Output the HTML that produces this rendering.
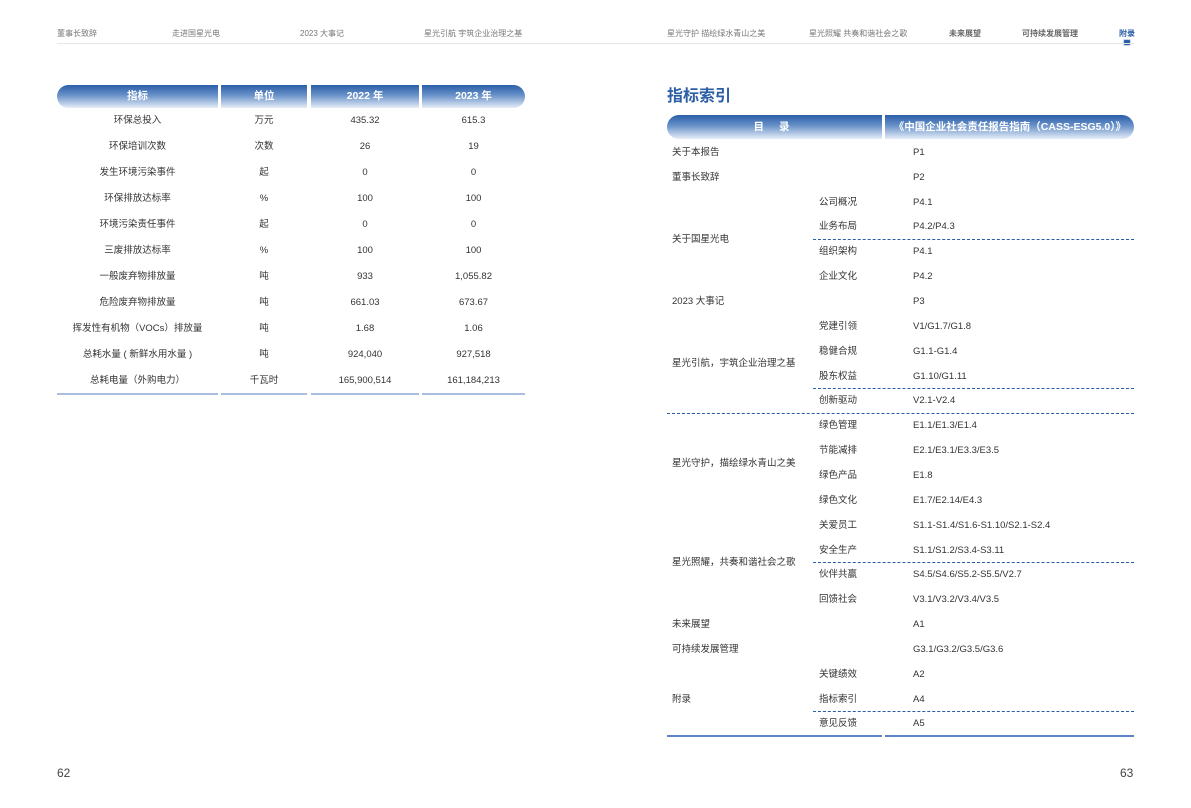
<!DOCTYPE html>
<html><head><meta charset="utf-8">
<style>
*{margin:0;padding:0;box-sizing:border-box}
body{width:1191px;height:808px;background:#fff;position:relative;overflow:hidden;font-family:"Liberation Sans","Noto Sans CJK SC",sans-serif;color:#333}
.a{position:absolute;white-space:nowrap}
.nav{font-size:8px;color:#777;top:28px}
.hd{position:absolute;height:23px;background:linear-gradient(#2a5ea8,#6a92c9 45%,#e6eef8);color:#fff;font-weight:bold;font-size:10.5px;line-height:23px;text-align:center}
.c{position:absolute;font-size:9.5px;text-align:center;line-height:14px;margin-top:1px}
.l{position:absolute;font-size:9.5px;line-height:14px;margin-top:1px}
.bl{position:absolute;height:2px;background:#a9bde0}
.dash{position:absolute;height:0;border-top:1px dashed #2b5ea6}
</style></head><body>
<div class="a nav" style="left:57px">董事长致辞</div>
<div class="a nav" style="left:172px">走进国星光电</div>
<div class="a nav" style="left:300px">2023 大事记</div>
<div class="a nav" style="left:424px">星光引航 宇筑企业治理之基</div>
<div class="a nav" style="left:667px">星光守护 描绘绿水青山之美</div>
<div class="a nav" style="left:809px">星光照耀 共奏和谐社会之歌</div>
<div class="a nav" style="left:949px;font-weight:bold;color:#666">未来展望</div>
<div class="a nav" style="left:1022px;font-weight:bold;color:#666">可持续发展管理</div>
<div class="a nav" style="left:1119px;font-weight:bold;color:#2b5ea6">附录</div>
<div class="a" style="left:1124px;top:40px;width:6px;height:5px;background:#2b5ea6;border-radius:1px;box-shadow:0 0 0 1px #c8d6ee"></div>
<div class="a" style="left:57px;top:43px;width:1077px;height:1px;background:#e6e6e6"></div>

<div class="hd" style="left:57px;top:85px;width:161px;border-radius:12px 0 0 12px">指标</div>
<div class="hd" style="left:221px;top:85px;width:86px">单位</div>
<div class="hd" style="left:311px;top:85px;width:108px">2022 年</div>
<div class="hd" style="left:422px;top:85px;width:103px;border-radius:0 12px 12px 0">2023 年</div>
<div class="c" style="left:57px;top:113px;width:161px">环保总投入</div><div class="c" style="left:221px;top:113px;width:86px">万元</div><div class="c" style="left:311px;top:113px;width:108px">435.32</div><div class="c" style="left:422px;top:113px;width:103px">615.3</div>
<div class="c" style="left:57px;top:139px;width:161px">环保培训次数</div><div class="c" style="left:221px;top:139px;width:86px">次数</div><div class="c" style="left:311px;top:139px;width:108px">26</div><div class="c" style="left:422px;top:139px;width:103px">19</div>
<div class="c" style="left:57px;top:165px;width:161px">发生环境污染事件</div><div class="c" style="left:221px;top:165px;width:86px">起</div><div class="c" style="left:311px;top:165px;width:108px">0</div><div class="c" style="left:422px;top:165px;width:103px">0</div>
<div class="c" style="left:57px;top:191px;width:161px">环保排放达标率</div><div class="c" style="left:221px;top:191px;width:86px">%</div><div class="c" style="left:311px;top:191px;width:108px">100</div><div class="c" style="left:422px;top:191px;width:103px">100</div>
<div class="c" style="left:57px;top:217px;width:161px">环境污染责任事件</div><div class="c" style="left:221px;top:217px;width:86px">起</div><div class="c" style="left:311px;top:217px;width:108px">0</div><div class="c" style="left:422px;top:217px;width:103px">0</div>
<div class="c" style="left:57px;top:243px;width:161px">三废排放达标率</div><div class="c" style="left:221px;top:243px;width:86px">%</div><div class="c" style="left:311px;top:243px;width:108px">100</div><div class="c" style="left:422px;top:243px;width:103px">100</div>
<div class="c" style="left:57px;top:269px;width:161px">一般废弃物排放量</div><div class="c" style="left:221px;top:269px;width:86px">吨</div><div class="c" style="left:311px;top:269px;width:108px">933</div><div class="c" style="left:422px;top:269px;width:103px">1,055.82</div>
<div class="c" style="left:57px;top:295px;width:161px">危险废弃物排放量</div><div class="c" style="left:221px;top:295px;width:86px">吨</div><div class="c" style="left:311px;top:295px;width:108px">661.03</div><div class="c" style="left:422px;top:295px;width:103px">673.67</div>
<div class="c" style="left:57px;top:321px;width:161px">挥发性有机物（VOCs）排放量</div><div class="c" style="left:221px;top:321px;width:86px">吨</div><div class="c" style="left:311px;top:321px;width:108px">1.68</div><div class="c" style="left:422px;top:321px;width:103px">1.06</div>
<div class="c" style="left:57px;top:347px;width:161px">总耗水量 ( 新鲜水用水量 )</div><div class="c" style="left:221px;top:347px;width:86px">吨</div><div class="c" style="left:311px;top:347px;width:108px">924,040</div><div class="c" style="left:422px;top:347px;width:103px">927,518</div>
<div class="c" style="left:57px;top:373px;width:161px">总耗电量（外购电力）</div><div class="c" style="left:221px;top:373px;width:86px">千瓦时</div><div class="c" style="left:311px;top:373px;width:108px">165,900,514</div><div class="c" style="left:422px;top:373px;width:103px">161,184,213</div>
<div class="bl" style="left:57px;top:393px;width:161px"></div><div class="bl" style="left:221px;top:393px;width:86px"></div><div class="bl" style="left:311px;top:393px;width:108px"></div><div class="bl" style="left:422px;top:393px;width:103px"></div>

<div class="a" style="left:667px;top:82px;font-size:16px;font-weight:bold;color:#2b5ea6">指标索引</div>
<div class="hd" style="left:667px;top:115px;width:215px;height:24px;line-height:24px;border-radius:12px 0 0 12px;letter-spacing:6px">目 录</div>
<div class="hd" style="left:885px;top:115px;width:249px;height:24px;line-height:24px;border-radius:0 12px 12px 0;text-align:right;padding-right:8px">《中国企业社会责任报告指南（CASS-ESG5.0）》</div>

<div class="l" style="left:672px;top:145px">关于本报告</div><div class="l" style="left:913px;top:145px">P1</div>
<div class="l" style="left:672px;top:170px">董事长致辞</div><div class="l" style="left:913px;top:170px">P2</div>
<div class="l" style="left:819px;top:195px">公司概况</div><div class="l" style="left:913px;top:195px">P4.1</div>
<div class="l" style="left:819px;top:219px">业务布局</div><div class="l" style="left:913px;top:219px">P4.2/P4.3</div>
<div class="l" style="left:819px;top:244px">组织架构</div><div class="l" style="left:913px;top:244px">P4.1</div>
<div class="l" style="left:819px;top:269px">企业文化</div><div class="l" style="left:913px;top:269px">P4.2</div>
<div class="l" style="left:672px;top:232px">关于国星光电</div>
<div class="l" style="left:672px;top:294px">2023 大事记</div><div class="l" style="left:913px;top:294px">P3</div>
<div class="l" style="left:819px;top:319px">党建引领</div><div class="l" style="left:913px;top:319px">V1/G1.7/G1.8</div>
<div class="l" style="left:819px;top:344px">稳健合规</div><div class="l" style="left:913px;top:344px">G1.1-G1.4</div>
<div class="l" style="left:819px;top:369px">股东权益</div><div class="l" style="left:913px;top:369px">G1.10/G1.11</div>
<div class="l" style="left:819px;top:393px">创新驱动</div><div class="l" style="left:913px;top:393px">V2.1-V2.4</div>
<div class="l" style="left:672px;top:356px">星光引航，宇筑企业治理之基</div>
<div class="l" style="left:819px;top:418px">绿色管理</div><div class="l" style="left:913px;top:418px">E1.1/E1.3/E1.4</div>
<div class="l" style="left:819px;top:443px">节能减排</div><div class="l" style="left:913px;top:443px">E2.1/E3.1/E3.3/E3.5</div>
<div class="l" style="left:819px;top:468px">绿色产品</div><div class="l" style="left:913px;top:468px">E1.8</div>
<div class="l" style="left:819px;top:493px">绿色文化</div><div class="l" style="left:913px;top:493px">E1.7/E2.14/E4.3</div>
<div class="l" style="left:672px;top:456px">星光守护，描绘绿水青山之美</div>
<div class="l" style="left:819px;top:518px">关爱员工</div><div class="l" style="left:913px;top:518px">S1.1-S1.4/S1.6-S1.10/S2.1-S2.4</div>
<div class="l" style="left:819px;top:543px">安全生产</div><div class="l" style="left:913px;top:543px">S1.1/S1.2/S3.4-S3.11</div>
<div class="l" style="left:819px;top:567px">伙伴共赢</div><div class="l" style="left:913px;top:567px">S4.5/S4.6/S5.2-S5.5/V2.7</div>
<div class="l" style="left:819px;top:592px">回馈社会</div><div class="l" style="left:913px;top:592px">V3.1/V3.2/V3.4/V3.5</div>
<div class="l" style="left:672px;top:555px">星光照耀，共奏和谐社会之歌</div>
<div class="l" style="left:672px;top:617px">未来展望</div><div class="l" style="left:913px;top:617px">A1</div>
<div class="l" style="left:672px;top:642px">可持续发展管理</div><div class="l" style="left:913px;top:642px">G3.1/G3.2/G3.5/G3.6</div>
<div class="l" style="left:819px;top:667px">关键绩效</div><div class="l" style="left:913px;top:667px">A2</div>
<div class="l" style="left:819px;top:692px">指标索引</div><div class="l" style="left:913px;top:692px">A4</div>
<div class="l" style="left:819px;top:716px">意见反馈</div><div class="l" style="left:913px;top:716px">A5</div>
<div class="l" style="left:672px;top:692px">附录</div>

<div class="dash" style="left:813px;top:239px;width:321px"></div>
<div class="dash" style="left:813px;top:388px;width:321px"></div>
<div class="dash" style="left:667px;top:413px;width:467px"></div>
<div class="dash" style="left:813px;top:562px;width:321px"></div>
<div class="dash" style="left:813px;top:711px;width:321px"></div>
<div class="a" style="left:667px;top:735px;width:215px;height:2px;background:#5b86c3"></div>
<div class="a" style="left:885px;top:735px;width:249px;height:2px;background:#5b86c3"></div>

<div class="a" style="left:57px;top:766px;font-size:12px;color:#444">62</div>
<div class="a" style="left:1120px;top:766px;font-size:12px;color:#444">63</div>
</body></html>
